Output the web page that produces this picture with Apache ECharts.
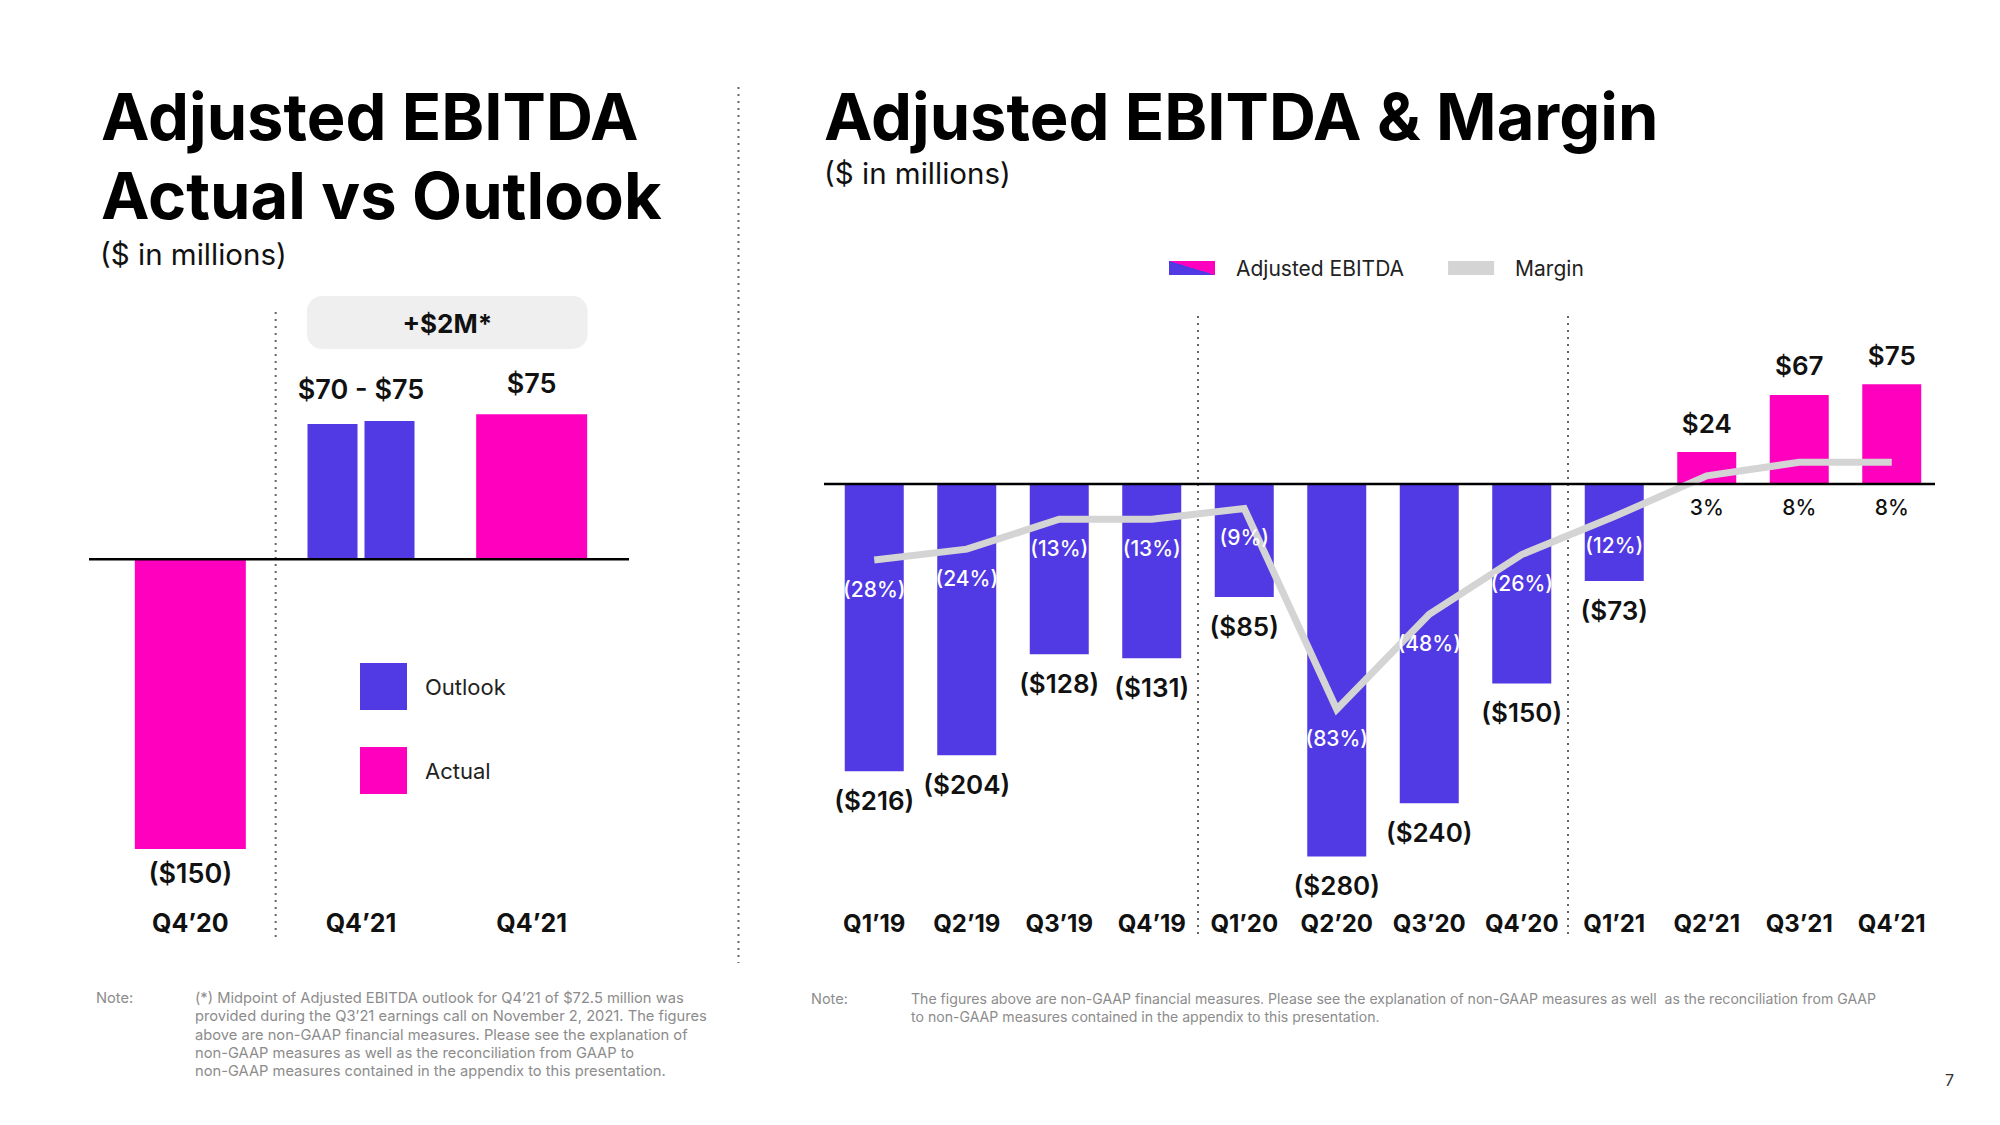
<!DOCTYPE html>
<html><head><meta charset="utf-8">
<script src="https://cdn.jsdelivr.net/npm/echarts@6/dist/echarts.min.js"></script>
<style>html,body{margin:0;padding:0;background:#fff}#c{width:2000px;height:1125px}</style>
</head><body><div id="c"></div>
<script>
// ---------------- data ----------------
const leftCategories = ['Q4’20', 'Q4’21', 'Q4’21'];
const leftActual = [-150, null, 75];
const leftOutlookLow = [null, 70, null];
const leftOutlookHigh = [null, 71.5, null];
const outlookRange = [70, 75];
const outlookDelta = '+$2M*';

const rightCategories = ['Q1’19', 'Q2’19', 'Q3’19', 'Q4’19', 'Q1’20', 'Q2’20', 'Q3’20', 'Q4’20', 'Q1’21', 'Q2’21', 'Q3’21', 'Q4’21'];
const rightEbitda = [-216, -204, -128, -131, -85, -280, -240, -150, -73, 24, 67, 75];
const rightMargin = [-28, -24, -13, -13, -9, -83, -48, -26, -12, 3, 8, 8];

// ---------------- style ----------------
const FONT = 'Inter, "Noto Sans", "DejaVu Sans", sans-serif';
const BLUE = '#5139E3';
const PINK = '#FF00BF';
const GREY_LINE = '#d4d4d4';
const money = v => v < 0 ? '($' + (-v) + ')' : '$' + v;
const pct = v => v < 0 ? '(' + (-v) + '%)' : v + '%';

const L = { left: 105, width: 512, top: 366, height: 541, min: -180, max: 100 };
const R = { left: 828, width: 1110, top: 351, height: 532, min: -300, max: 100, mMin: -147, mMax: 49 };
const pxPerPct = R.height / (R.mMax - R.mMin);

const chart = echarts.init(document.getElementById('c'), null, { renderer: 'svg', width: 2000, height: 1125 });

const legendGradient = {
  type: 'linear', x: 0, y: 1, x2: 1, y2: 0,
  colorStops: [{ offset: 0, color: BLUE }, { offset: 0.5, color: BLUE }, { offset: 0.5, color: PINK }, { offset: 1, color: PINK }]
};

const moneyLabel = {
  show: true, fontFamily: FONT, fontWeight: 600, fontSize: 26, lineHeight: 26, color: '#111',
  formatter: p => money(p.value)
};

const option = {
  animation: false,
  backgroundColor: '#fff',
  textStyle: { fontFamily: FONT },
  grid: [
    { left: L.left, top: L.top, width: L.width, height: L.height },
    { left: R.left, top: R.top, width: R.width, height: R.height }
  ],
  xAxis: [
    { type: 'category', gridIndex: 0, data: leftCategories, axisLine: { show: false }, axisTick: { show: false },
      axisLabel: { margin: 3, fontFamily: FONT, fontWeight: 'bold', fontSize: 25, lineHeight: 26, color: '#111' } },
    { type: 'category', gridIndex: 0, data: leftCategories, show: false },
    { type: 'category', gridIndex: 1, data: rightCategories, axisLine: { show: false }, axisTick: { show: false },
      axisLabel: { margin: 27, fontFamily: FONT, fontWeight: 'bold', fontSize: 24, lineHeight: 26, color: '#111', interval: 0 } }
  ],
  yAxis: [
    { type: 'value', gridIndex: 0, min: L.min, max: L.max, show: false, splitLine: { show: false } },
    { type: 'value', gridIndex: 1, min: R.min, max: R.max, show: false, splitLine: { show: false } },
    { type: 'value', gridIndex: 1, min: R.mMin, max: R.mMax, show: false, splitLine: { show: false } }
  ],
  legend: [
    { left: 355, top: 658, orient: 'vertical', icon: 'rect', itemWidth: 47, itemHeight: 47, itemGap: 37,
      selectedMode: false,
      textStyle: { fontFamily: FONT, fontSize: 22, color: '#222', padding: [0, 0, 0, 13] },
      data: [{ name: 'Outlook', itemStyle: { color: BLUE } }, { name: 'Actual', itemStyle: { color: PINK } }] },
    { left: 1164, top: 251, orient: 'horizontal', icon: 'rect', itemWidth: 46, itemHeight: 14, itemGap: 44,
      selectedMode: false,
      textStyle: { fontFamily: FONT, fontSize: 21, lineHeight: 24, color: '#222', padding: [0, 0, 0, 16] },
      data: [{ name: 'Adjusted EBITDA', itemStyle: { color: legendGradient } },
             { name: 'Margin', itemStyle: { color: GREY_LINE } }] }
  ],
  series: [
    { name: 'Actual', type: 'bar', xAxisIndex: 0, yAxisIndex: 0, barWidth: 111,
      itemStyle: { color: PINK },
      data: leftActual.map(v => v == null ? null : { value: v, label: { position: v < 0 ? 'bottom' : 'top', distance: v < 0 ? 11 : 17 } }),
      label: Object.assign({}, moneyLabel, { fontSize: 27, lineHeight: 27 }) },
    { name: 'Outlook', type: 'bar', xAxisIndex: 1, yAxisIndex: 0, barWidth: 50, barGap: '14%',
      itemStyle: { color: BLUE },
      data: leftOutlookLow.map(v => v == null ? null : {
        value: v,
        label: { show: true, position: 'top', distance: 21, offset: [28.5, 0],
          fontFamily: FONT, fontWeight: 600, fontSize: 27, lineHeight: 27, color: '#111',
          formatter: () => money(outlookRange[0]) + ' - ' + money(outlookRange[1]) }
      }) },
    { name: 'Outlook', type: 'bar', xAxisIndex: 1, yAxisIndex: 0, barWidth: 50, barGap: '14%',
      itemStyle: { color: BLUE }, data: leftOutlookHigh },
    { name: 'Adjusted EBITDA', type: 'bar', xAxisIndex: 2, yAxisIndex: 1, barWidth: 59,
      itemStyle: { color: legendGradient },
      data: rightEbitda.map(v => ({
        value: v,
        itemStyle: { color: v < 0 ? BLUE : PINK },
        label: { position: v < 0 ? 'bottom' : 'top' }
      })),
      label: Object.assign({}, moneyLabel, { distance: 16 }) },
    { name: 'Margin', type: 'line', xAxisIndex: 2, yAxisIndex: 2, z: 3,
      symbol: 'circle', symbolSize: 1, showSymbol: true,
      itemStyle: { color: 'rgba(0,0,0,0)' },
      lineStyle: { color: GREY_LINE, width: 7, cap: 'butt', join: 'miter' },
      data: rightMargin.map(v => ({
        value: v,
        label: v < 0
          ? { color: '#fff', offset: [0, 2] }
          : { color: '#111', offset: [0, v * pxPerPct - 4] }
      })),
      label: { show: true, position: 'bottom', distance: 16, fontFamily: FONT, fontSize: 21, lineHeight: 21,
        fontWeight: 500, formatter: p => pct(p.value) } }
  ],
  graphic: []
};
chart.setOption(option);

// ---------------- layout / annotations ----------------
const txt = (x, y, text, font, fill, extra) => ({
  type: 'text', x, y, silent: true,
  style: Object.assign({ text, font, fill, verticalAlign: 'middle', align: 'left' }, extra || {})
});
const vline = (x, y1, y2) => ({
  type: 'line', silent: true, z: 1,
  shape: { x1: x, y1, x2: x, y2 },
  style: { stroke: '#666', lineWidth: 2, lineDash: [2, 5] }
});
const hline = (x1, x2, y) => ({
  type: 'line', silent: true, z: 5,
  shape: { x1, y1: y, x2, y2: y },
  style: { stroke: '#000', lineWidth: 2.5 }
});
const yearBoundaries = cats => cats.map((c, i) => i > 0 && c.slice(-2) !== cats[i - 1].slice(-2) ? i : -1).filter(i => i > 0);

const g = [];
const titleFont = 'bold 65px ' + FONT;
const subFont = '29.5px ' + FONT;
g.push(txt(101, 116, 'Adjusted EBITDA', titleFont, '#000'));
g.push(txt(101, 195, 'Actual vs Outlook', titleFont, '#000'));
g.push(txt(100, 254, '($ in millions)', subFont, '#111'));
g.push(txt(824, 116, 'Adjusted EBITDA & Margin', titleFont, '#000'));
g.push(txt(824, 173, '($ in millions)', subFont, '#111'));

// panel divider
g.push(vline(738.5, 87, 963));

// left zero line and divider
const lz = chart.convertToPixel({ yAxisIndex: 0 }, 0);
g.push(hline(89, 629, lz));
yearBoundaries(leftCategories).forEach(i => {
  const x = (chart.convertToPixel({ xAxisIndex: 0 }, i - 1) + chart.convertToPixel({ xAxisIndex: 0 }, i)) / 2;
  g.push(vline(x, 312, 937));
});
// right zero line and dividers
const rz = chart.convertToPixel({ yAxisIndex: 1 }, 0);
g.push(hline(824, 1935, rz));
yearBoundaries(rightCategories).forEach(i => {
  const x = (chart.convertToPixel({ xAxisIndex: 2 }, i - 1) + chart.convertToPixel({ xAxisIndex: 2 }, i)) / 2;
  g.push(vline(x, 316, 937));
});

// delta badge over the Q4'21 pair
const bx1 = chart.convertToPixel({ xAxisIndex: 1 }, 1) - 54;
const bx2 = chart.convertToPixel({ xAxisIndex: 0 }, 2) + 56;
g.push({ type: 'rect', silent: true, shape: { x: bx1, y: 296, width: bx2 - bx1, height: 53, r: 15 }, style: { fill: '#efefef' } });
g.push(txt((bx1 + bx2) / 2, 323, outlookDelta, 'bold 26px ' + FONT, '#111', { align: 'center' }));

// notes
const noteFill = '#8c8c8c';
g.push(txt(96, 998, 'Note:', '14.7px ' + FONT, noteFill));
g.push(txt(195, 989, [
  '(*) Midpoint of Adjusted EBITDA outlook for Q4’21 of $72.5 million was',
  'provided during the Q3’21 earnings call on November 2, 2021. The figures',
  'above are non-GAAP financial measures. Please see the explanation of',
  'non-GAAP measures as well as the reconciliation from GAAP to',
  'non-GAAP measures contained in the appendix to this presentation.'
].join('\n'), '14.7px ' + FONT, noteFill, { lineHeight: 18.3, verticalAlign: 'top' }));
g.push(txt(811, 998, 'Note:', '14.5px ' + FONT, noteFill));
g.push(txt(911, 989, [
  'The figures above are non-GAAP financial measures. Please see the explanation of non-GAAP measures as well  as the reconciliation from GAAP',
  'to non-GAAP measures contained in the appendix to this presentation.'
].join('\n'), '14.1px ' + FONT, noteFill, { lineHeight: 18.3, verticalAlign: 'top' }));
g.push(txt(1945, 1080, '7', '16px ' + FONT, '#333'));

chart.setOption({ graphic: g });
</script>
</body></html>
